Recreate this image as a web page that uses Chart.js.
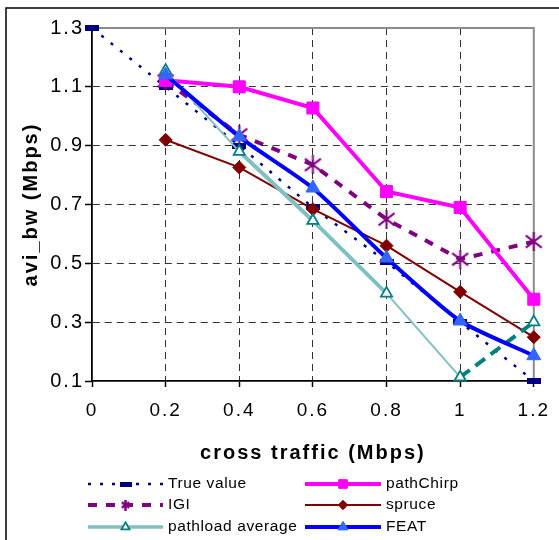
<!DOCTYPE html>
<html><head><meta charset="utf-8">
<script src="https://cdn.jsdelivr.net/npm/chart.js@4/dist/chart.umd.min.js"></script>
<style>html,body{margin:0;padding:0;background:#fff;}#wrap{width:559px;height:540px;}</style>
</head><body><div id="wrap"><canvas id="c" width="559" height="540"></canvas></div>
<script>
// ---- data ----
const xValues = [0, 0.2, 0.4, 0.6, 0.8, 1.0, 1.2];
const xTickLabels = ['0', '0.2', '0.4', '0.6', '0.8', '1', '1.2'];
const yTickValues = [0.1, 0.3, 0.5, 0.7, 0.9, 1.1, 1.3];
const yTickLabels = ['0.1', '0.3', '0.5', '0.7', '0.9', '1.1', '1.3'];
const trueValue = [1.3, 1.1, 0.9, 0.69, 0.505, 0.3, 0.1];
const pathChirp = [null, 1.122, 1.10, 1.028, 0.744, 0.69, 0.378];
const igi       = [null, 1.12, 0.937, 0.835, 0.65, 0.514, 0.574];
const spruce    = [null, 0.92, 0.826, 0.684, 0.56, 0.403, 0.249];
const pathload  = [null, 1.155, 0.88, 0.645, 0.398, 0.113, 0.30];
const feat      = [null, 1.14, 0.93, 0.756, 0.518, 0.304, 0.186];
const seriesNames = ['True value', 'pathChirp', 'IGI', 'spruce', 'pathload average', 'FEAT'];
const legendLeft = ['True value', 'IGI', 'pathload average'];
const legendRight = ['pathChirp', 'spruce', 'FEAT'];
const xTitle = 'cross traffic (Mbps)';
const yTitle = 'avi_bw (Mbps)';

function pts(arr) {
  return xValues.map((x, i) => ({x: x, y: arr[i]})).filter(p => p.y !== null);
}
function rectMarker(w, h, color) {
  const c = document.createElement('canvas'); c.width = w; c.height = h;
  const g = c.getContext('2d'); g.fillStyle = color; g.fillRect(0, 0, w, h); return c;
}
function asteriskMarker(s, lw, color) {
  const c = document.createElement('canvas'); c.width = s; c.height = s;
  const g = c.getContext('2d'); g.strokeStyle = color; g.lineWidth = lw;
  const m = lw / 2 + 0.5;
  g.beginPath();
  g.moveTo(m, m + s * 0.1); g.lineTo(s - m, s - m - s * 0.1);
  g.moveTo(s - m, m + s * 0.1); g.lineTo(m, s - m - s * 0.1);
  g.moveTo(s / 2, 0); g.lineTo(s / 2, s);
  g.stroke(); return c;
}
const NAVY = '#000080', MAGENTA = '#FF00FF', PURPLE = '#800080', DRED = '#800000',
      LTEAL = '#80C0C0', TEAL = '#008080', BLUE = '#0000FF', LBLUE = '#3366FF';

const trueMarker = rectMarker(14, 6, NAVY);
const igiMarker = asteriskMarker(19, 2, PURPLE);

const datasets = [
  {label: seriesNames[0], data: pts(trueValue), borderColor: NAVY, borderWidth: 2.5, borderDash: [3, 9],
   pointStyle: trueMarker, order: 5, legendMarker: rectMarker(12, 5, NAVY)},
  {label: seriesNames[1], data: pts(pathChirp), borderColor: MAGENTA, borderWidth: 4,
   pointStyle: 'rect', pointRadius: 8.5, pointBackgroundColor: MAGENTA, pointBorderColor: MAGENTA, pointBorderWidth: 1, order: 3},
  {label: seriesNames[2], data: pts(igi), borderColor: PURPLE, borderWidth: 4, borderDash: [9, 9],
   pointStyle: igiMarker, order: 4, legendMarker: asteriskMarker(11, 2.5, PURPLE)},
  {label: seriesNames[3], data: pts(spruce), borderColor: DRED, borderWidth: 2,
   pointStyle: 'rectRot', pointRadius: 6.5, pointBackgroundColor: DRED, pointBorderColor: DRED, pointBorderWidth: 1, order: 2},
  {label: seriesNames[4], data: pts(pathload), borderColor: LTEAL, borderWidth: 2,
   pointStyle: 'triangle', pointRadius: 6.5, pointBackgroundColor: '#fff', pointBorderColor: TEAL, pointBorderWidth: 1.8, order: 1,
   segment: {
     borderWidth: c => (c.p0DataIndex === 1 || c.p0DataIndex === 2 || c.p0DataIndex === 4) ? 4 : 2,
     borderColor: c => c.p0DataIndex === 4 ? TEAL : LTEAL,
     borderDash: c => c.p0DataIndex === 4 ? [12, 7] : []
   }, legendWidth: 3.5},
  {label: seriesNames[5], data: pts(feat), borderColor: BLUE, borderWidth: 4, tension: 0.2,
   pointStyle: 'triangle', pointRadius: 8, pointBackgroundColor: LBLUE, pointBorderColor: LBLUE, pointBorderWidth: 1, order: 0}
];
datasets.forEach(d => { d.fill = false; d.clip = false; if (d.tension === undefined) d.tension = 0; });

function drawMarker(ctx, ds, x, y, scale) {
  if (ds.legendMarker) { const m = ds.legendMarker; ctx.drawImage(m, x - m.width / 2, y - m.height / 2); return; }
  const r = ds.pointRadius * scale;
  ctx.save();
  ctx.fillStyle = ds.pointBackgroundColor; ctx.strokeStyle = ds.pointBorderColor; ctx.lineWidth = ds.pointBorderWidth;
  ctx.setLineDash([]);
  ctx.beginPath();
  if (ds.pointStyle === 'rect') { const s = r * Math.SQRT1_2; ctx.rect(x - s, y - s, 2 * s, 2 * s); }
  else if (ds.pointStyle === 'rectRot') { ctx.moveTo(x, y - r); ctx.lineTo(x + r, y); ctx.lineTo(x, y + r); ctx.lineTo(x - r, y); ctx.closePath(); }
  else if (ds.pointStyle === 'triangle') {
    for (let k = 0; k < 3; k++) { const a = -Math.PI / 2 + k * 2 * Math.PI / 3; const px = x + Math.cos(a) * r, py = y + Math.sin(a) * r; k ? ctx.lineTo(px, py) : ctx.moveTo(px, py); }
    ctx.closePath();
  }
  ctx.fill(); ctx.stroke(); ctx.restore();
}

const decor = {
  id: 'decor',
  beforeDraw(chart) {
    const ctx = chart.ctx;
    ctx.save();
    ctx.fillStyle = '#fff'; ctx.fillRect(0, 0, chart.width, chart.height);
    ctx.strokeStyle = '#000'; ctx.lineWidth = 1.5;
    ctx.beginPath(); ctx.moveTo(6, chart.height); ctx.lineTo(6, 8); ctx.lineTo(chart.width, 8); ctx.stroke();
    ctx.restore();
    try { ctx.letterSpacing = '2px'; } catch (e) {}
  },
  beforeDatasetsDraw(chart) {
    const ctx = chart.ctx, a = chart.chartArea;
    ctx.save(); ctx.strokeStyle = '#8c8c8c'; ctx.lineWidth = 2;
    ctx.beginPath(); ctx.moveTo(a.left, a.top); ctx.lineTo(a.right, a.top); ctx.lineTo(a.right, a.bottom); ctx.stroke();
    ctx.restore();
  },
  afterDraw(chart) {
    const ctx = chart.ctx;
    ctx.save();
    try { ctx.letterSpacing = '0.6px'; } catch (e) {}
    const rowsY = [484, 505, 527];
    const cols = [{names: legendLeft, x0: 88, x1: 163}, {names: legendRight, x0: 305, x1: 381}];
    cols.forEach(col => {
      col.names.forEach((name, i) => {
        const ds = datasets.find(d => d.label === name);
        const y = rowsY[i];
        ctx.save();
        ctx.strokeStyle = ds.borderColor; ctx.lineWidth = ds.legendWidth || ds.borderWidth;
        ctx.setLineDash(ds.borderDash || []);
        ctx.beginPath(); ctx.moveTo(col.x0, y); ctx.lineTo(col.x1, y); ctx.stroke();
        ctx.restore();
        drawMarker(ctx, ds, (col.x0 + col.x1) / 2, y, 0.72);
        ctx.fillStyle = '#000'; ctx.font = '15.5px Arial, "Liberation Sans", sans-serif';
        ctx.textBaseline = 'middle'; ctx.textAlign = 'left';
        ctx.fillText(name, col.x1 + 5, y);
      });
    });
    ctx.restore();
  }
};

const near = (a, b) => Math.abs(a - b) < 1e-6;
const FONT = 'Arial, "Liberation Sans", sans-serif';

new Chart(document.getElementById('c'), {
  type: 'line',
  data: {datasets: datasets},
  plugins: [decor],
  options: {
    responsive: false, animation: false, devicePixelRatio: 1,
    events: [],
    layout: {padding: {left: 0, top: 28, right: 20, bottom: 75}},
    plugins: {legend: {display: false}, tooltip: {enabled: false}},
    scales: {
      x: {
        type: 'linear', min: 0, max: 1.2,
        afterBuildTicks: s => { s.ticks = xValues.map(v => ({value: v})); },
        afterFit: s => { s.height = 84; },
        ticks: {callback: (v, i) => xTickLabels[i], color: '#000', font: {family: FONT, size: 19}, padding: 12, maxRotation: 0, autoSkip: false},
        grid: {color: c => (c.tick && (near(c.tick.value, 0) || near(c.tick.value, 1.2))) ? 'rgba(0,0,0,0)' : '#333',
               lineWidth: 1, tickColor: '#000', tickLength: 6, tickWidth: 1.5, tickBorderDash: []},
        border: {display: true, color: '#000', width: 1.8, dash: [7, 5]},
        title: {display: true, text: xTitle, color: '#000', font: {family: FONT, size: 20, weight: 'bold'}, padding: {top: 0, bottom: 0}}
      },
      y: {
        type: 'linear', min: 0.1, max: 1.3,
        afterBuildTicks: s => { s.ticks = yTickValues.map(v => ({value: v})); },
        afterFit: s => { s.width = 92; },
        ticks: {callback: (v, i) => yTickLabels[i], color: '#000', font: {family: FONT, size: 20}, padding: 1, autoSkip: false},
        grid: {color: c => (c.tick && (near(c.tick.value, 0.1) || near(c.tick.value, 1.3))) ? 'rgba(0,0,0,0)' : '#333',
               lineWidth: 1, tickColor: '#000', tickLength: 7, tickWidth: 1.5, tickBorderDash: []},
        border: {display: true, color: '#000', width: 1.8, dash: [7, 5]},
        title: {display: true, text: yTitle, color: '#000', font: {family: FONT, size: 20, weight: 'bold'}, padding: {top: 19, bottom: 0}}
      }
    }
  }
});
</script></body></html>
